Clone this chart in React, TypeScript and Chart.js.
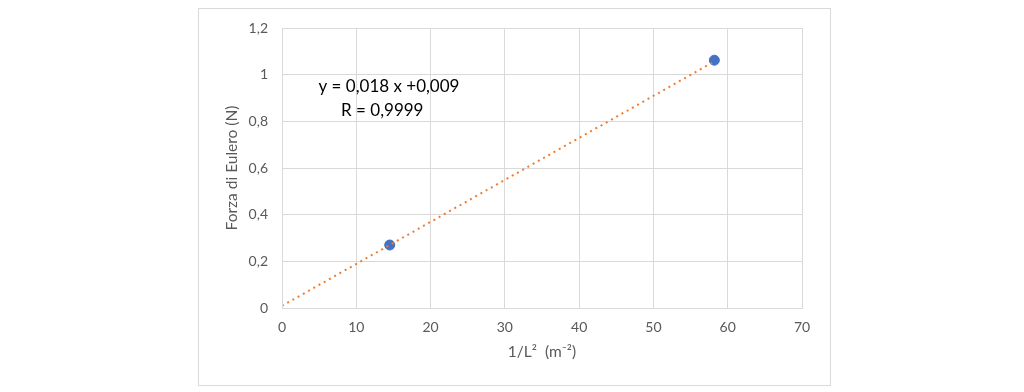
import React, { useEffect, useRef } from "react";
import { Chart, registerables } from "chart.js";
Chart.register(...registerables);

const xValues = [14.5, 58.2];
const yValues = [0.27, 1.062];
const trendX = [0, 58.2];
const slope = 0.018;
const intercept = 0.009;
const xTickLabels = ["0", "10", "20", "30", "40", "50", "60", "70"];
const yTickLabels = ["0", "0,2", "0,4", "0,6", "0,8", "1", "1,2"];
const equationLines = ["y = 0,018 x +0,009", "R = 0,9999"];
const xTitle = "1/L²  (m⁻²)";
const yTitle = "Forza di Eulero (N)";

const FONT = "Lato, 'Open Sans', sans-serif";

export default function App() {
  const ref = useRef<HTMLCanvasElement | null>(null);
  useEffect(() => {
    if (!ref.current) return;
    const framePlugin = {
      id: "frame",
      beforeDraw(chart: any) {
        const ctx = chart.ctx;
        ctx.save();
        ctx.fillStyle = "#ffffff";
        ctx.fillRect(0, 0, chart.width, chart.height);
        ctx.strokeStyle = "#d9d9d9";
        ctx.lineWidth = 1;
        ctx.strokeRect(198.5, 8.5, 632, 377);
        ctx.restore();
      },
      afterDatasetsDraw(chart: any) {
        const ctx = chart.ctx;
        const a = chart.chartArea;
        ctx.save();
        ctx.strokeStyle = "#d9d9d9";
        ctx.lineWidth = 1;
        ctx.strokeRect(Math.round(a.left) + 0.5, Math.round(a.top) + 0.5, Math.round(a.right - a.left), Math.round(a.bottom - a.top));
        ctx.restore();
      },
      afterDraw(chart: any) {
        const ctx = chart.ctx;
        const xs = chart.scales.x;
        const ys = chart.scales.y;
        ctx.save();
        ctx.fillStyle = "#000000";
        ctx.font = "17px " + FONT;
        ctx.textAlign = "center";
        ctx.textBaseline = "middle";
        ctx.fillText(equationLines[0], xs.getPixelForValue(14.4), ys.getPixelForValue(0.948));
        ctx.fillText(equationLines[1], xs.getPixelForValue(13.5), ys.getPixelForValue(0.846));
        ctx.restore();
      },
    };

    const chart = new Chart(ref.current, {
      type: "scatter",
      data: {
        datasets: [
          {
            label: "trend",
            data: trendX.map((x) => ({ x, y: slope * x + intercept })),
            showLine: true,
            borderColor: "#ED7D31",
            borderWidth: 2,
            borderDash: [2, 4],
            pointRadius: 0,
            fill: false,
          },
          {
            label: "data",
            data: xValues.map((x, i) => ({ x, y: yValues[i] })),
            backgroundColor: "#4472C4",
            borderColor: "#4472C4",
            pointRadius: 5,
          },
        ],
      },
      options: {
        animation: false,
        responsive: false,
        layout: { padding: { left: 200, right: 222, top: 28, bottom: 24 } },
        plugins: { legend: { display: false }, tooltip: { enabled: false } },
        scales: {
          x: {
            type: "linear",
            min: 0,
            max: 70,
            ticks: {
              stepSize: 10,
              padding: 11,
              color: "#595959",
              font: { family: FONT, size: 14 },
              callback: (v: any) => xTickLabels[Math.round(Number(v) / 10)] ?? "",
            },
            grid: { color: "#d9d9d9", drawTicks: false },
            border: { display: false },
            title: {
              display: true,
              text: xTitle,
              color: "#595959",
              font: { family: FONT, size: 15.5 },
              padding: { top: 4, bottom: 7 },
            },
            afterFit: (s: any) => {
              s.height = 60;
            },
          },
          y: {
            type: "linear",
            min: 0,
            max: 1.2,
            ticks: {
              stepSize: 0.2,
              padding: 14,
              color: "#595959",
              font: { family: FONT, size: 14 },
              callback: (v: any) => yTickLabels[Math.round(Number(v) / 0.2)] ?? "",
            },
            grid: { color: "#d9d9d9", drawTicks: false },
            border: { display: false },
            title: {
              display: true,
              text: yTitle,
              color: "#595959",
              font: { family: FONT, size: 15.5 },
              padding: { top: 23, bottom: 0 },
            },
            afterFit: (s: any) => {
              s.width = 82;
            },
          },
        },
      },
      plugins: [framePlugin],
    });
    return () => chart.destroy();
  }, []);
  return (
    <div style={{ position: "fixed", left: 0, top: 0, width: 1024, height: 392, background: "#fff" }}>
      <canvas ref={ref} width={1024} height={392} style={{ width: 1024, height: 392, display: "block" }} />
    </div>
  );
}
